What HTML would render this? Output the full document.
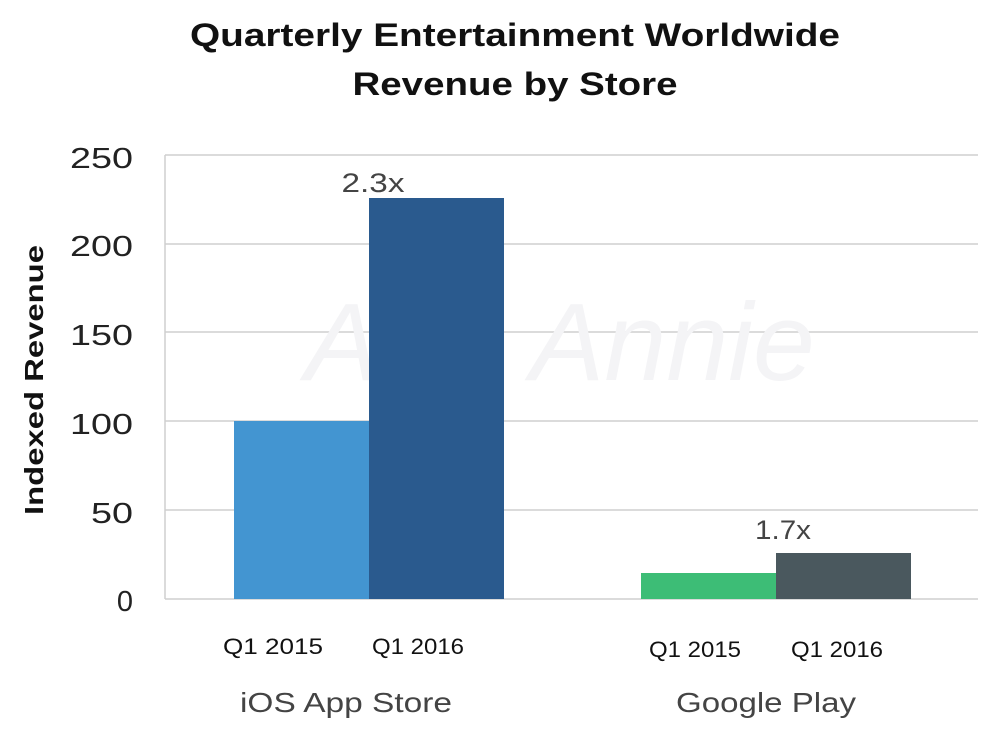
<!DOCTYPE html>
<html><head><meta charset="utf-8"><style>
html,body{margin:0;padding:0;background:#fff;}
svg{display:block;font-family:"Liberation Sans",sans-serif;}
</style></head><body>
<svg width="1000" height="742" viewBox="0 0 1000 742" xmlns="http://www.w3.org/2000/svg">
<text x="515" y="46" text-anchor="middle" font-size="32" font-weight="bold" fill="#111" textLength="650" lengthAdjust="spacingAndGlyphs">Quarterly Entertainment Worldwide</text>
<text x="515" y="95" text-anchor="middle" font-size="32" font-weight="bold" fill="#111" textLength="325" lengthAdjust="spacingAndGlyphs">Revenue by Store</text>
<g stroke="#cfcfcf" stroke-width="1.5">
<line x1="165" y1="155" x2="978" y2="155"/>
<line x1="165" y1="244" x2="978" y2="244"/>
<line x1="165" y1="332" x2="978" y2="332"/>
<line x1="165" y1="421" x2="978" y2="421"/>
<line x1="165" y1="510" x2="978" y2="510"/>
<line x1="165" y1="599" x2="978" y2="599"/>
<line x1="165" y1="155" x2="165" y2="599"/>
</g>
<text x="560" y="380" text-anchor="middle" font-size="110" font-style="italic" fill="#f4f4f6" textLength="510" lengthAdjust="spacingAndGlyphs">App Annie</text>
<rect x="234" y="421" width="135" height="178" fill="#4395d1"/>
<rect x="369" y="198" width="135" height="401" fill="#2a5a8e"/>
<rect x="641" y="573" width="135" height="26" fill="#3dbd76"/>
<rect x="776" y="553" width="135" height="46" fill="#4a585e"/>
<g font-size="29" fill="#222" text-anchor="end">
<text x="133" y="168" textLength="63" lengthAdjust="spacingAndGlyphs">250</text>
<text x="133" y="256" textLength="63" lengthAdjust="spacingAndGlyphs">200</text>
<text x="133" y="345" textLength="63" lengthAdjust="spacingAndGlyphs">150</text>
<text x="133" y="434" textLength="63" lengthAdjust="spacingAndGlyphs">100</text>
<text x="133" y="523" textLength="42" lengthAdjust="spacingAndGlyphs">50</text>
<text x="133" y="611">0</text>
</g>
<text transform="translate(43,380) rotate(-90)" text-anchor="middle" font-size="26" font-weight="bold" fill="#111" textLength="270" lengthAdjust="spacingAndGlyphs">Indexed Revenue</text>
<text x="373" y="192" text-anchor="middle" font-size="27" fill="#444" textLength="63" lengthAdjust="spacingAndGlyphs">2.3x</text>
<text x="783" y="539" text-anchor="middle" font-size="27" fill="#444" textLength="56" lengthAdjust="spacingAndGlyphs">1.7x</text>
<g font-size="22" fill="#111" text-anchor="middle">
<text x="273" y="654" textLength="100" lengthAdjust="spacingAndGlyphs">Q1 2015</text>
<text x="418" y="654" textLength="92" lengthAdjust="spacingAndGlyphs">Q1 2016</text>
<text x="695" y="657" textLength="92" lengthAdjust="spacingAndGlyphs">Q1 2015</text>
<text x="837" y="657" textLength="92" lengthAdjust="spacingAndGlyphs">Q1 2016</text>
</g>
<g font-size="28" fill="#444" text-anchor="middle">
<text x="346" y="712" textLength="212" lengthAdjust="spacingAndGlyphs">iOS App Store</text>
<text x="766" y="712" textLength="180" lengthAdjust="spacingAndGlyphs">Google Play</text>
</g>
</svg>
</body></html>
